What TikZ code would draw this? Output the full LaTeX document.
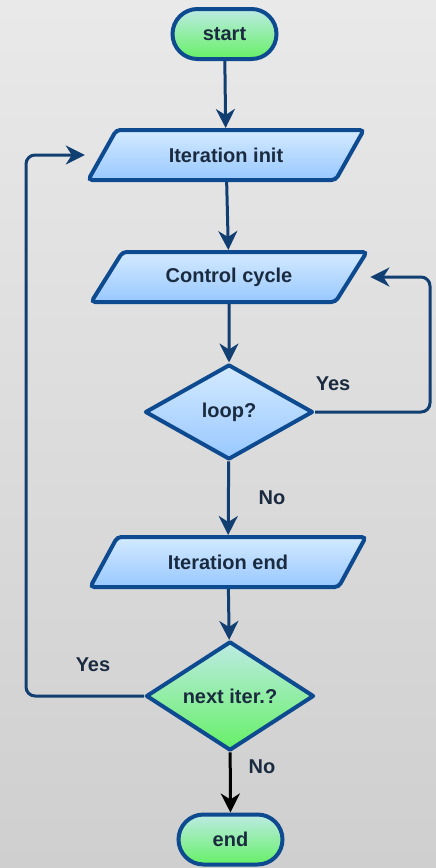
\documentclass[tikz,border=0pt]{standalone}
\usepackage{fontspec}
\setmainfont{Liberation Sans}
\usetikzlibrary{shapes.geometric,shapes.misc,arrows.meta,calc}

\definecolor{edgeblue}{HTML}{0E4A8F}
\definecolor{linkblue}{HTML}{123F72}
\definecolor{inkdark}{HTML}{1B2B3F}
\definecolor{bluetop}{HTML}{D4EAFF}
\definecolor{bluebot}{HTML}{98C8FF}
\definecolor{greentop}{HTML}{BDEBE4}
\definecolor{greenbot}{HTML}{66F066}
\definecolor{bgtop}{HTML}{E9E9E9}
\definecolor{bgbot}{HTML}{CFCFCF}

\tikzset{
  txt/.style={font=\fontsize{20}{24}\selectfont\bfseries, text=inkdark},
  basebox/.style={txt, draw=edgeblue, line width=4pt, inner sep=0pt},
  terminal/.style={basebox, rounded rectangle, minimum width=104pt,
    minimum height=50pt, top color=greentop, bottom color=greenbot},
  iobox/.style={basebox, trapezium, trapezium left angle=45,
    trapezium right angle=135, trapezium stretches=true,
    minimum width=276pt, minimum height=50pt, rounded corners=4pt,
    top color=bluetop, bottom color=bluebot},
  decision/.style={basebox, diamond, minimum width=168pt,
    minimum height=95pt, line join=round},
  bluedec/.style={decision, top color=bluetop, bottom color=bluebot},
  greendec/.style={decision, top color=greentop, bottom color=greenbot},
  conn/.style={draw=linkblue, line width=3pt,
    -{Stealth[length=19pt,width=19pt,inset=6pt]}},
  lbl/.style={txt}
}

\begin{document}
\begin{tikzpicture}[x=1pt,y=-1pt]
  % backdrop
  \fill[top color=bgtop, bottom color=bgbot] (0,0) rectangle (436,868);
  \useasboundingbox (0,0) rectangle (436,868);

  % nodes of the flow
  \node[terminal] (start) at (224.5,34) {start};
  \node[iobox]    (init)  at (226,155)  {Iteration init};
  \node[iobox]    (cc)    at (229,277)  {Control cycle};
  \node[bluedec]  (loop)  at (229,412)  {loop?};
  \node[iobox]    (iend)  at (228,562)  {Iteration end};
  \node[greendec] (next)  at (230,696)  {next iter.?};
  \node[terminal] (end)   at (230.5,839.5) {end};

  % turning points of the return paths
  \coordinate (rightrail) at (430,0);
  \coordinate (leftrail)  at (26,0);

  % straight flow
  \draw[conn] (start) -- (init);
  \draw[conn] (init) -- (cc);
  \draw[conn] (cc) -- (loop);
  \draw[conn] (loop) -- (iend);
  \draw[conn] (iend) -- (next);
  \draw[conn, draw=black] (next) -- (end);

  % return paths
  \draw[conn, rounded corners=9pt] (loop.east) -- (loop.east -| rightrail)
    |- (cc.top right corner |- cc.center);
  \draw[conn, rounded corners=9pt] (next.west) -- (next.west -| leftrail)
    |- (init.bottom left corner |- init.center);

  % branch labels
  \node[lbl] (yes1) at (333,384) {Yes};
  \node[lbl] (no1)  at (272,498) {No};
  \node[lbl] (yes2) at (93,665)  {Yes};
  \node[lbl] (no2)  at (262,767) {No};
\end{tikzpicture}
\end{document}
